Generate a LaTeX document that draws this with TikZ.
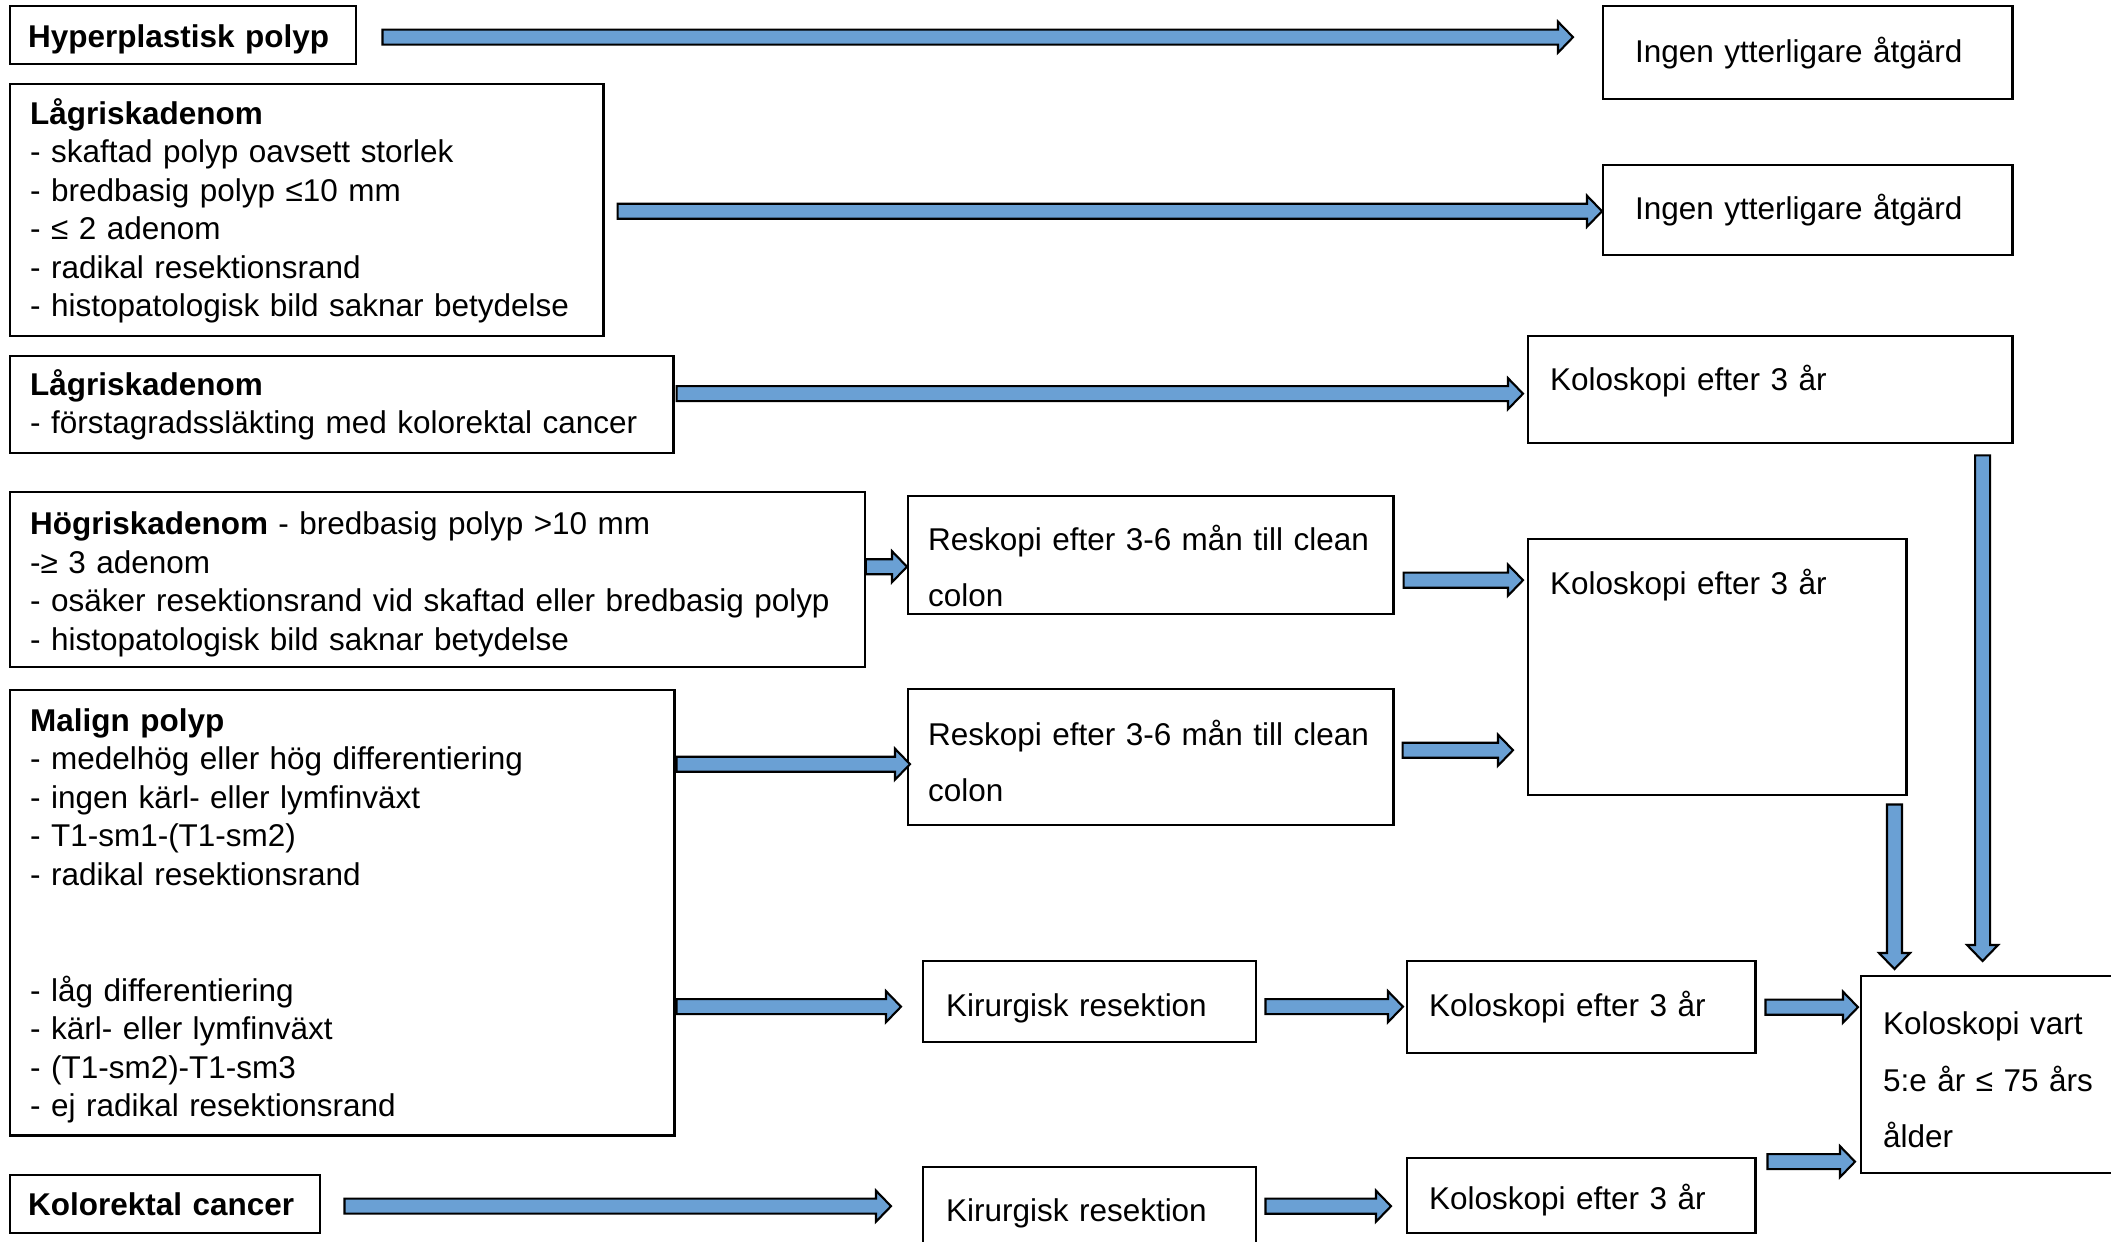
\documentclass[tikz,border=0pt]{standalone}
\usepackage{fontspec}
\setmainfont{Liberation Sans}
\usetikzlibrary{calc}
\definecolor{arrblue}{RGB}{106,160,212}
\tikzset{
  bx/.style={draw=black,line width=.65pt,anchor=north west,align=left,inner ysep=0pt},
  lst/.style={font=\fontsize{8.95}{10.96}\selectfont},
  wide/.style={font=\fontsize{8.95}{16.1}\selectfont},
  % block arrows: shaft and head are one outlined polygon, the start point
  % fixes the line of the arrow and the target only gives where the tip is
  blk/.style={draw=black,line width=.6pt,fill=arrblue,
    to path={let \p1=(\tikztostart),\p2=(\tikztotarget) in
      (\x1,\y1+.075cm) -- (\x2-.15cm,\y1+.075cm) -- (\x2-.15cm,\y1+.155cm) -- (\x2,\y1)
      -- (\x2-.15cm,\y1-.155cm) -- (\x2-.15cm,\y1-.075cm) -- (\x1,\y1-.075cm) -- cycle}},
  blkd/.style={draw=black,line width=.6pt,fill=arrblue,
    to path={let \p1=(\tikztostart),\p2=(\tikztotarget) in
      (\x1-.075cm,\y1) -- (\x1-.075cm,\y2+.16cm) -- (\x1-.155cm,\y2+.16cm) -- (\x1,\y2)
      -- (\x1+.155cm,\y2+.16cm) -- (\x1+.075cm,\y2+.16cm) -- (\x1+.075cm,\y1) -- cycle}},
}

\begin{document}
\begin{tikzpicture}[x=.01cm,y=-.01cm]
\useasboundingbox (0,0) rectangle (2111,1241);
\clip (0,0) rectangle (2111,1241);

% left column: findings
\node[bx,lst,minimum width=3.46cm,minimum height=.58cm,text width=3.10cm,inner xsep=.18cm,text height=.31cm] (hyp) at (9,5)
  {\textbf{Hyperplastisk polyp}};
\node[bx,lst,minimum width=5.93cm,minimum height=2.52cm,text width=5.53cm,inner xsep=.2cm,text height=.27cm] (lagA) at (9,83)
  {\textbf{Lågriskadenom}\\
   - skaftad polyp oavsett storlek\\
   - bredbasig polyp ≤10 mm\\
   - ≤ 2 adenom\\
   - radikal resektionsrand\\
   - histopatologisk bild saknar betydelse};
\node[bx,lst,minimum width=6.63cm,minimum height=.97cm,text width=6.23cm,inner xsep=.2cm,text height=.26cm] (lagB) at (9,355)
  {\textbf{Lågriskadenom}\\
   - förstagradssläkting med kolorektal cancer};
\node[bx,lst,minimum width=8.54cm,minimum height=1.75cm,text width=8.14cm,inner xsep=.2cm,text height=.32cm] (hog) at (9,491)
  {\textbf{Högriskadenom} - bredbasig polyp >10 mm\\
   -≥ 3 adenom\\
   - osäker resektionsrand vid skaftad eller bredbasig polyp\\
   - histopatologisk bild saknar betydelse};
\node[bx,lst,minimum width=6.64cm,minimum height=4.45cm,text width=6.24cm,inner xsep=.2cm,text height=.29cm] (mal) at (9,689)
  {\textbf{Malign polyp}\\
   - medelhög eller hög differentiering\\
   - ingen kärl- eller lymfinväxt\\
   - T1-sm1-(T1-sm2)\\
   - radikal resektionsrand\\
   \mbox{}\\
   \mbox{}\\
   - låg differentiering\\
   - kärl- eller lymfinväxt\\
   - (T1-sm2)-T1-sm3\\
   - ej radikal resektionsrand};
\node[bx,lst,minimum width=3.10cm,minimum height=.58cm,text width=2.74cm,inner xsep=.18cm] (kol) at (9,1174)
  {\textbf{Kolorektal cancer}};

% middle: first steps
\node[bx,wide,minimum width=4.85cm,minimum height=1.18cm,text width=4.45cm,inner xsep=.2cm,text height=.47cm] (resA) at (907,495)
  {Reskopi efter 3-6 mån till clean\\ colon};
\node[bx,wide,minimum width=4.85cm,minimum height=1.36cm,text width=4.45cm,inner xsep=.2cm,text height=.33cm] (resB) at (907,688)
  {Reskopi efter 3-6 mån till clean\\ colon};
\node[bx,lst,minimum width=3.33cm,minimum height=.81cm,text width=2.87cm,inner xsep=.23cm,text height=.36cm] (kirA) at (922,960)
  {Kirurgisk resektion};
\node[bx,lst,minimum width=3.33cm,minimum height=.86cm,text width=2.87cm,inner xsep=.23cm,text height=.285cm] (kirB) at (922,1166)
  {Kirurgisk resektion};
\node[bx,lst,minimum width=3.48cm,minimum height=.92cm,text width=3.04cm,inner xsep=.22cm] (koloC) at (1406,960)
  {Koloskopi efter 3 år};
\node[bx,lst,minimum width=3.48cm,minimum height=.75cm,text width=3.04cm,inner xsep=.22cm,text height=.34cm] (koloD) at (1406,1157)
  {Koloskopi efter 3 år};

% right column: follow-up
\node[bx,lst,minimum width=4.09cm,minimum height=.93cm,text width=3.45cm,inner xsep=.32cm] (ingA) at (1602,5)
  {Ingen ytterligare åtgärd};
\node[bx,lst,minimum width=4.09cm,minimum height=.90cm,text width=3.45cm,inner xsep=.32cm] (ingB) at (1602,164)
  {Ingen ytterligare åtgärd};
\node[bx,lst,minimum width=4.84cm,minimum height=1.07cm,text width=4.40cm,inner xsep=.22cm,text depth=.235cm] (koloA) at (1527,335)
  {Koloskopi efter 3 år};
\node[bx,lst,minimum width=3.78cm,minimum height=2.56cm,text width=3.34cm,inner xsep=.22cm,text depth=1.7cm] (koloB) at (1527,538)
  {Koloskopi efter 3 år};
\node[bx,wide,minimum width=2.65cm,minimum height=1.97cm,text width=2.21cm,inner xsep=.22cm,text height=.335cm] (fin) at (1860,975)
  {Koloskopi vart\\ 5:e år ≤ 75 års\\ ålder};

\draw[blk] ($(hyp.east)+(25,2)$) to ($(ingA.west)+(-29,0)$);
\draw[blk] ($(lagA.east)+(13,1)$) to (ingB.west);
\draw[blk] ($(lagB.east)+(2,-11)$) to ($(koloA.west)+(-4,0)$);
\draw[blk] ($(hog.east)+(0,-13)$) to (resA.west);
\draw[blk] ($(resA.east)+(9,25)$) to ($(koloB.west)+(-4,0)$);
\draw[blk] ($(mal.east |- resB.west)+(1,7)$) to ($(resB.west)+(3,0)$);
\draw[blk] ($(resB.east)+(8,-7)$) to ($(koloB.west)+(-14,0)$);
\draw[blk] ($(mal.east |- kirA.west)+(1,5)$) to ($(kirA.west)+(-21,0)$);
\draw[blk] ($(kirA.east)+(8,5)$) to ($(koloC.west)+(-3,0)$);
\draw[blk] ($(koloC.east)+(9,0)$) to ($(fin.west)+(-2,0)$);
\draw[blk] ($(kol.east)+(23,2)$) to ($(kirB.west)+(-31,0)$);
\draw[blk] ($(kirB.east)+(8,-4)$) to ($(koloD.west)+(-15,0)$);
\draw[blk] ($(koloD.east)+(11,-34)$) to ($(fin.west)+(-5,0)$);
% both 3-year colonoscopies drop down into the 5-yearly one
\draw[blkd] ($(koloB.south east)+(-13,8)$) to ($(fin.north)+(0,-6)$);
\draw[blkd] ($(koloA.south east)+(-31,11)$) to ($(fin.north)+(0,-14)$);
\end{tikzpicture}
\end{document}
